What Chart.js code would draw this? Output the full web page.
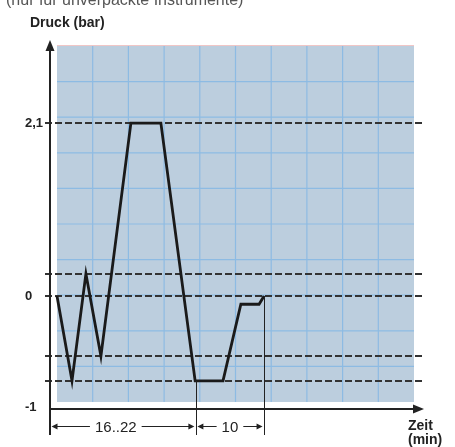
<!DOCTYPE html>
<html><head><meta charset="utf-8">
<script src="https://cdn.jsdelivr.net/npm/chart.js@4"></script>
<style>html,body{margin:0;padding:0;background:#fff;}#wrap{width:455px;height:447px;position:relative;}</style>
</head><body><div id="wrap"><canvas id="c" width="455" height="447"></canvas></div>
<script>
// --- data (schematic test cycle) ---
const timePoints   = [0, 0.42, 0.81, 1.23, 2.07, 2.91, 3.87, 4.65, 5.15, 5.66, 5.80];
const pressureBar  = [0, -1.03, 0.27, -0.73, 2.1, 2.1, -1.03, -1.03, -0.1, -0.1, 0];
const refLevels    = [2.1, 0.27, 0, -0.73, -1.03];
const yTickValues  = [2.1, 0, -1.35];
const yTickLabels  = ['2,1', '0', '-1'];
const phaseBounds  = [-0.196, 3.89, 5.80];
const phaseStartLevels = [-1.03, 0];
const phaseLabels  = ['16..22', '10'];
const subtitle = '(nur für unverpackte Instrumente)';
const yTitle = 'Druck (bar)';
const xTitle = ['Zeit', '(min)'];

const FONT = "'Liberation Sans', Arial, sans-serif";
const X_MIN = -0.196, X_MAX = 10.28, Y_MIN = -1.372, Y_MAX = 3.108;
const PLOT_X = [0, 10], PLOT_Y = [-1.287, 3.035];

const decor = {
  id: 'decor',
  beforeDatasetsDraw(chart) {
    const {ctx, scales: {x, y}, chartArea: ca} = chart;
    const l = x.getPixelForValue(PLOT_X[0]), r = x.getPixelForValue(PLOT_X[1]);
    const t = y.getPixelForValue(PLOT_Y[1]), b = y.getPixelForValue(PLOT_Y[0]);
    ctx.save();
    ctx.fillStyle = '#bccede';
    ctx.fillRect(l, t, r - l, b - t);
    ctx.strokeStyle = '#8dbbe3';
    ctx.lineWidth = 1.2;
    for (let i = 1; i < 10; i++) {
      const px = l + (r - l) * i / 10;
      ctx.beginPath(); ctx.moveTo(px, t); ctx.lineTo(px, b); ctx.stroke();
      const py = t + (b - t) * i / 10;
      ctx.beginPath(); ctx.moveTo(l, py); ctx.lineTo(r, py); ctx.stroke();
    }
    ctx.strokeStyle = 'rgba(230,160,160,0.6)';
    ctx.lineWidth = 1;
    ctx.beginPath(); ctx.moveTo(l, t - 0.5); ctx.lineTo(r, t - 0.5); ctx.stroke();
    // dashed reference levels
    ctx.strokeStyle = '#333';
    ctx.lineWidth = 2;
    ctx.setLineDash([7, 3]);
    refLevels.forEach(v => {
      const py = Math.round(y.getPixelForValue(v));
      ctx.beginPath(); ctx.moveTo(ca.left - 5, py); ctx.lineTo(ca.right + 1, py); ctx.stroke();
    });
    ctx.restore();
  },
  afterDatasetsDraw(chart) {
    const {ctx, scales: {x, y}, chartArea: ca} = chart;
    ctx.save();
    ctx.strokeStyle = '#222'; ctx.fillStyle = '#222';
    // y axis
    ctx.lineWidth = 2;
    ctx.beginPath(); ctx.moveTo(ca.left, ca.top + 8); ctx.lineTo(ca.left, ca.bottom + 26); ctx.stroke();
    ctx.beginPath(); ctx.moveTo(ca.left, ca.top); ctx.lineTo(ca.left - 4.5, ca.top + 11); ctx.lineTo(ca.left + 4.5, ca.top + 11); ctx.closePath(); ctx.fill();
    // x axis
    ctx.beginPath(); ctx.moveTo(ca.left, ca.bottom); ctx.lineTo(ca.right - 8, ca.bottom); ctx.stroke();
    ctx.beginPath(); ctx.moveTo(ca.right, ca.bottom); ctx.lineTo(ca.right - 11, ca.bottom - 4.5); ctx.lineTo(ca.right - 11, ca.bottom + 4.5); ctx.closePath(); ctx.fill();
    // phase boundaries
    ctx.lineWidth = 1;
    phaseStartLevels.forEach((lv, i) => {
      const px = Math.round(x.getPixelForValue(phaseBounds[i + 1])) + 0.5;
      ctx.beginPath(); ctx.moveTo(px, y.getPixelForValue(lv)); ctx.lineTo(px, ca.bottom + 26); ctx.stroke();
    });
    // duration arrows
    const ay = ca.bottom + 17.5;
    ctx.font = '15px ' + FONT;
    ctx.textBaseline = 'middle'; ctx.textAlign = 'center';
    const fracs = [0.45, 0.5];
    phaseLabels.forEach((lab, i) => {
      const x0 = x.getPixelForValue(phaseBounds[i]) + 1.5;
      const x1 = x.getPixelForValue(phaseBounds[i + 1]) - 1.5;
      const cx = x0 + (x1 - x0) * fracs[i];
      const w = ctx.measureText(lab).width;
      ctx.beginPath(); ctx.moveTo(x0 + 4, ay); ctx.lineTo(cx - w / 2 - 5, ay); ctx.stroke();
      ctx.beginPath(); ctx.moveTo(cx + w / 2 + 5, ay); ctx.lineTo(x1 - 4, ay); ctx.stroke();
      ctx.beginPath(); ctx.moveTo(x0, ay); ctx.lineTo(x0 + 6, ay - 3); ctx.lineTo(x0 + 6, ay + 3); ctx.closePath(); ctx.fill();
      ctx.beginPath(); ctx.moveTo(x1, ay); ctx.lineTo(x1 - 6, ay - 3); ctx.lineTo(x1 - 6, ay + 3); ctx.closePath(); ctx.fill();
      ctx.fillText(lab, cx, ay + 1);
    });
    // titles
    ctx.textAlign = 'left'; ctx.textBaseline = 'alphabetic';
    ctx.fillStyle = '#555';
    ctx.font = '16px ' + FONT;
    ctx.fillText(subtitle, 6, 5);
    ctx.fillStyle = '#222';
    ctx.font = 'bold 14px ' + FONT;
    ctx.fillText(yTitle, 30, 27);
    ctx.fillText(xTitle[0], ca.right - 16, ca.bottom + 21);
    ctx.fillText(xTitle[1], ca.right - 16, ca.bottom + 35);
    ctx.restore();
  }
};

new Chart(document.getElementById('c'), {
  type: 'line',
  data: {
    datasets: [{
      data: timePoints.map((t, i) => ({x: t, y: pressureBar[i]})),
      borderColor: '#1a1a1a',
      borderWidth: 2.8,
      borderJoinStyle: 'miter',
      pointRadius: 0,
      tension: 0,
      fill: false
    }]
  },
  options: {
    responsive: false,
    animation: false,
    events: [],
    layout: {padding: {left: 25, top: 40, right: 31, bottom: 38}},
    plugins: {legend: {display: false}, tooltip: {enabled: false}, title: {display: false}},
    scales: {
      x: {type: 'linear', min: X_MIN, max: X_MAX, display: false},
      y: {
        type: 'linear', min: Y_MIN, max: Y_MAX, position: 'left',
        grid: {display: false}, border: {display: false},
        afterBuildTicks: s => { s.ticks = yTickValues.map(v => ({value: v})); },
        afterFit: s => { s.width = 25; },
        ticks: {
          autoSkip: false, crossAlign: 'far', padding: 0,
          color: '#222', font: {family: FONT, size: 13, weight: 'bold'},
          callback: (v, i) => yTickLabels[i]
        }
      }
    }
  },
  plugins: [decor]
});
</script></body></html>
